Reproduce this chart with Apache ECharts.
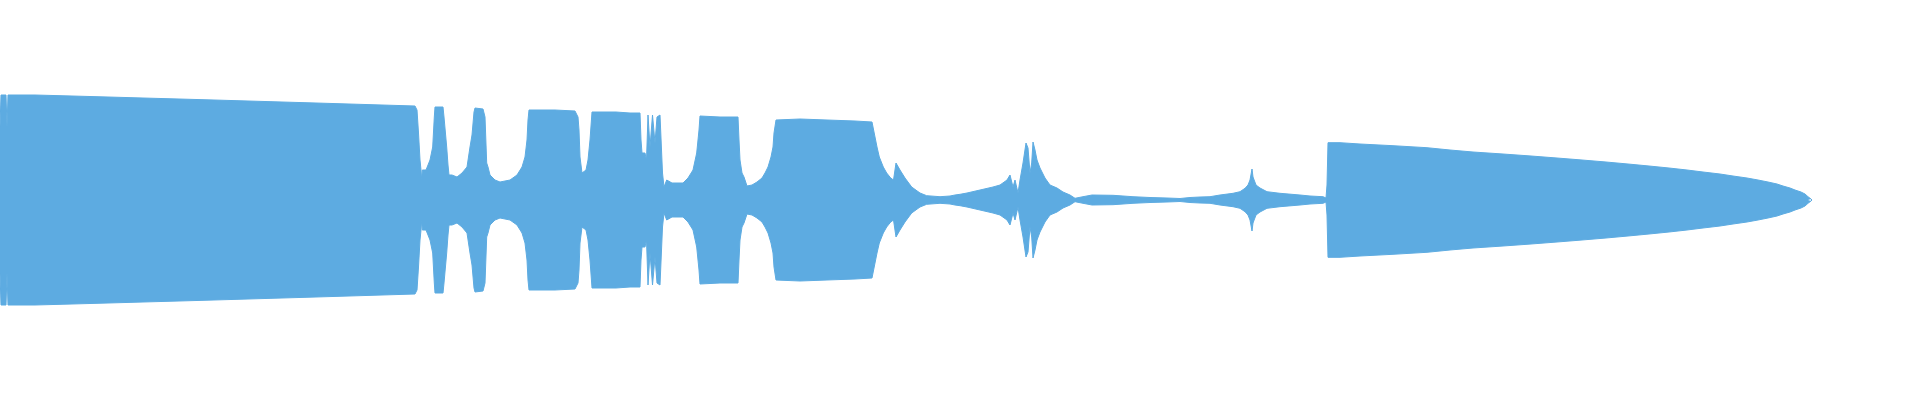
<!DOCTYPE html>
<html><head><meta charset="utf-8">
<script src="https://cdn.jsdelivr.net/npm/echarts@6/dist/echarts.min.js"></script>
<style>html,body{margin:0;padding:0;background:#fff}#c{width:1920px;height:400px}</style>
</head><body><div id="c"></div>
<script>
// sample positions (time) and envelope amplitude
const sampleTime = [
  0,1,6,7,8,35,72,108,143,179,214,248,282,316,349,382,415,417,418.5,420,421,421.7,422.3,426,430,432.7,434.3,435,443,444,446.7,448,449,452,457,462,467,470,472,474,475,483,
  485,486.7,488,490,492,495,500,510,517,522,525,527,528,529,555,575,577,578,579,580,582,584,586,588,590,592,616,630,640,
  641,642,645,646.5,648,650,652.5,655,657,660,662,662.5,664,666.7,672,683,688,693,696.7,699,700,720,738,
  739,740,741,742,744,747,752,757,762,765,768,771,773,774,776,777,800,827,855,872,
  873,875,877,879.3,883.3,886.7,890.7,892.7,893.5,896,900,905,911.7,920,926.7,940,950,955,960,
  967,980,993,1000,1007,1010,1011,1013,1015,1016,1018,1020,1023,1026,1028,1030,1031.7,1033,1035,1037,1040,1045,1050,1057,1063,1070,1075,1077,
  1083,1092,1113,1133,1150,1167,1180,1190,1200,1210,1220,1233,1240,1245,1248,1250,1252,1253,1256,1260,1267,1280,1300,1310,1323,1326,1327,
  1328,1340,1360,1393,1427,1440,1450,1473,1503,1531,1557,1582,1606,1628,1649,1669,1678,1687,1703,1720,1733,1747,1758,1768,1777,1783,1790,1795,1801,1805,1808,1811,1812
];
const envelope = [
  73,105,105,73,105,105,104,103,102,101,100,99,98,97,96,95,94,90,67,40,30,20,30,30,40,53,83,93,93,83,53,35,25,25,23,27,33,53,65,88,92,91,
  83,37,33,25,23,20,18,20,25,33,43,60,80,90,90,89,88,83,70,43,27,25,30,40,60,88,88,87,87,
  60,47,47,40,85,53,85,57,83,85,85,27,13,20,17,17,22,30,47,70,84,83,83,
  60,40,40,27,23,14,15,18,22,27,33,43,53,67,80,81,81,80,79,78,
  73,63,53,43,33,27,22,23,20,37,30,22,13,7,4.3,3.3,4,5,5.7,
  7,10,13,15,20,25,26,13,20,22,7,20,37,57,52,27,37,58,50,40,32,22,15,12,8,5,1.7,1,
  3.3,5,4.7,3.3,2.5,2,1.5,2.5,3,3.3,5,6.7,8.3,11.7,15,20,31,23,15,12,8.3,6.7,5,4,3.3,2,15,
  57.3,57.3,56,54.3,52.3,51,50,48,46,44,42,40,38,36,34,32,31,30,28,26,24,22,20,18,16,14,12,10,8,6,3.3,1,0
];
const waveColor = '#5DABE1';
const points = sampleTime.map((t, i) => [t, envelope[i]]);

const chart = echarts.init(document.getElementById('c'), null, {renderer: 'canvas'});
const seriesStyle = {
  type: 'line', data: points, symbol: 'none', silent: true,
  lineStyle: {color: waveColor, width: 1},
  areaStyle: {color: waveColor, opacity: 1}
};
chart.setOption({
  animation: false,
  grid: {left: 0, right: 0, top: 0, bottom: 0},
  xAxis: {type: 'value', min: 0, max: 1920, show: false},
  yAxis: [
    {type: 'value', min: -200, max: 200, show: false},
    {type: 'value', min: -200, max: 200, inverse: true, show: false}
  ],
  series: [
    Object.assign({name: 'upper', yAxisIndex: 0}, seriesStyle),
    Object.assign({name: 'lower', yAxisIndex: 1}, seriesStyle)
  ]
});
</script>
</body></html>
